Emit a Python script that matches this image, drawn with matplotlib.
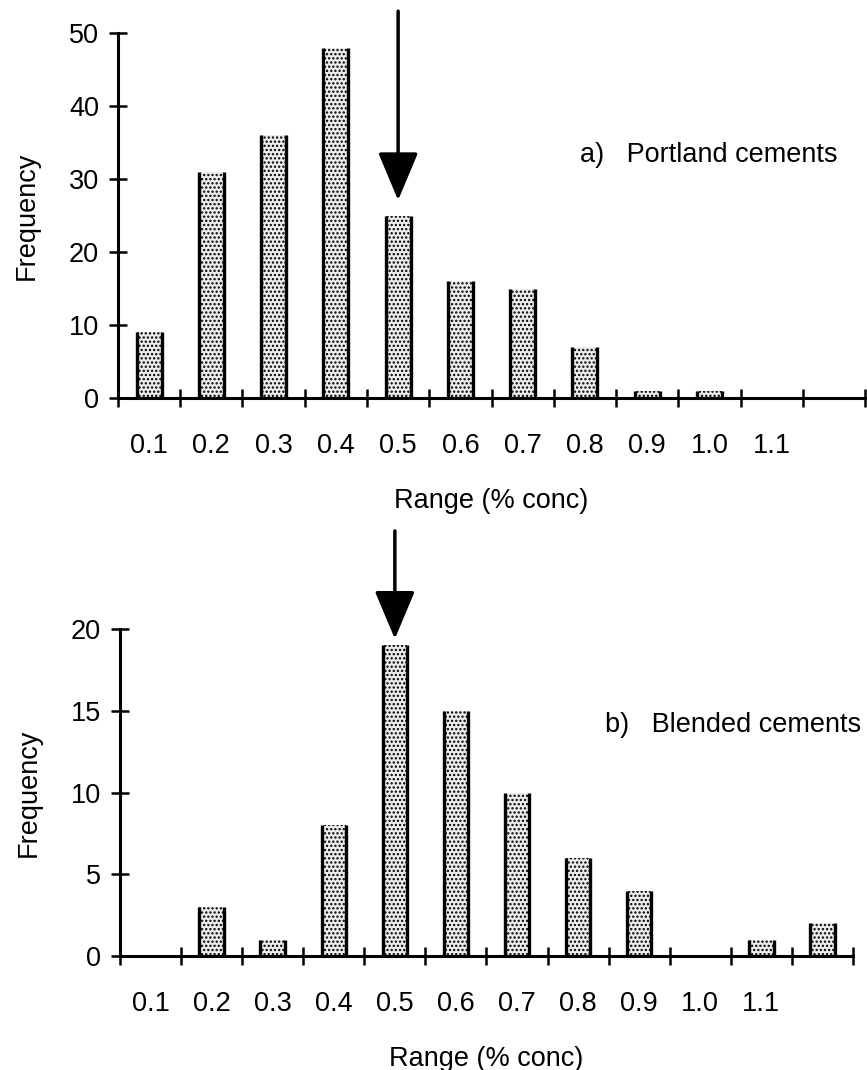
import numpy as np
import matplotlib
matplotlib.use("Agg")
import matplotlib.pyplot as plt

plt.rcParams['font.family'] = ['Liberation Sans', 'DejaVu Sans']
plt.rcParams['hatch.color'] = 'black'
plt.rcParams['hatch.linewidth'] = 1.1

# 12 slots on the x axis, the last one has no label
range_labels = ['0.1', '0.2', '0.3', '0.4', '0.5', '0.6',
                '0.7', '0.8', '0.9', '1.0', '1.1', '']
portland_freq = [9, 31, 36, 48, 25, 16, 15, 7, 1, 1, 0, 0]
blended_freq = [0, 3, 1, 8, 19, 15, 10, 6, 4, 0, 1, 2]

panels = [
    dict(freq=portland_freq, ymax=50, ystep=10, title='a)   Portland cements',
         rect=[0.1361, 0.6280, 0.8616, 0.3411], title_xy=(0.618, 0.666),
         arrow_idx=4, arrow_tip=2.1, arrow_top=53),
    dict(freq=blended_freq, ymax=20, ystep=5, title='b)   Blended cements',
         rect=[0.1384, 0.1065, 0.8454, 0.3056], title_xy=(0.662, 0.706),
         arrow_idx=4, arrow_tip=0.4, arrow_top=26),
]

BAR_W = 0.4
FS = 19.5

fig = plt.figure(figsize=(8.67, 10.7), dpi=100)

for p in panels:
    ax = fig.add_axes(p['rect'])
    x = np.arange(len(range_labels))
    freq = np.array(p['freq'])

    # stippled fill, heavy black sides, no top line
    ax.bar(x, freq, width=BAR_W, color='#ececec', hatch='....',
           edgecolor='black', linewidth=0)
    ax.vlines(x - BAR_W / 2, 0, freq, color='black', lw=2.4)
    ax.vlines(x + BAR_W / 2, 0, freq, color='black', lw=2.4)

    ax.set_xlim(-0.5, len(range_labels) - 0.5)
    ax.set_ylim(0, p['ymax'])

    for side in ['top', 'right']:
        ax.spines[side].set_visible(False)
    ax.spines['left'].set_linewidth(2.2)
    ax.spines['bottom'].set_linewidth(2.2)

    # labels under the bars, tick marks between them
    ax.set_xticks(x)
    ax.set_xticklabels(range_labels, fontsize=FS)
    ax.tick_params(axis='x', which='major', length=0, pad=25)
    ax.set_xticks(np.arange(-0.5, len(range_labels)), minor=True)
    ax.tick_params(axis='x', which='minor', direction='inout', length=13, width=1.8)

    ax.set_yticks(np.arange(0, p['ymax'] + 1, p['ystep']))
    ax.tick_params(axis='y', direction='inout', length=13, width=1.8,
                   labelsize=FS, pad=7)

    ax.set_xlabel('Range (% conc)', fontsize=FS, labelpad=21)
    ax.set_ylabel('Frequency', fontsize=FS, labelpad=21)

    ax.text(p['title_xy'][0], p['title_xy'][1], p['title'], transform=ax.transAxes,
            fontsize=19.5, va='center', ha='left')

    i = p['arrow_idx']
    ax.annotate('', xy=(i, freq[i] + p['arrow_tip']), xytext=(i, p['arrow_top']),
                arrowprops=dict(arrowstyle='-|>,head_length=1.5,head_width=0.63',
                                mutation_scale=20, lw=2.5, color='black',
                                shrinkA=0, shrinkB=0),
                annotation_clip=False)

fig.savefig('out.png', dpi=100)
